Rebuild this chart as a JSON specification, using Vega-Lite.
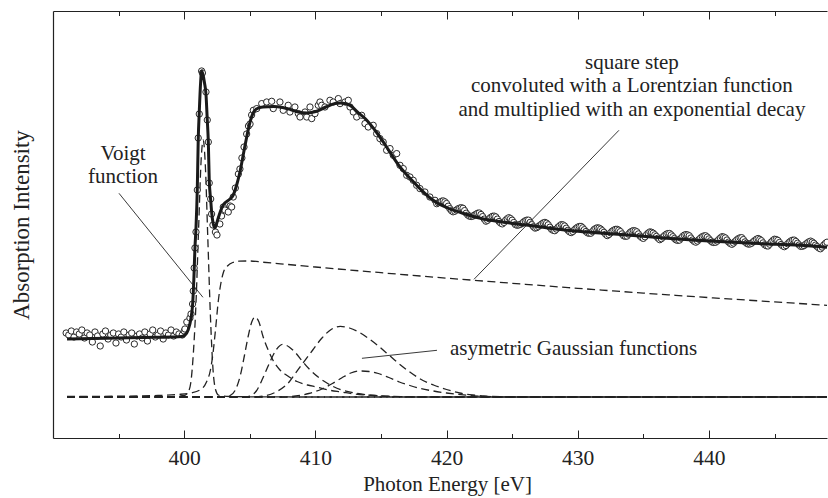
{
  "$schema": "https://vega.github.io/schema/vega-lite/v6.json",
  "width": 774,
  "height": 427,
  "autosize": {"type": "none"},
  "padding": {"left": 53, "top": 11, "right": 1, "bottom": 60},
  "background": "white",
  "config": {"view": {"stroke": null}, "font": "Liberation Serif", "axis": {"grid": false}},
  "datasets": {
    "pts": [
      {"e":391.0,"I":105},{"e":391.2,"I":103},{"e":391.4,"I":107},{"e":391.6,"I":101},{"e":391.8,"I":106},{"e":392.0,"I":104},{"e":392.2,"I":108},{"e":392.4,"I":100},{"e":392.6,"I":105},{"e":392.8,"I":103},
      {"e":393.0,"I":96},{"e":393.2,"I":106},{"e":393.4,"I":102},{"e":393.6,"I":92},{"e":393.8,"I":104},{"e":394.0,"I":107},{"e":394.2,"I":99},{"e":394.4,"I":103},{"e":394.6,"I":105},{"e":394.8,"I":95},
      {"e":395.0,"I":104},{"e":395.2,"I":101},{"e":395.4,"I":106},{"e":395.6,"I":98},{"e":395.8,"I":103},{"e":396.0,"I":105},{"e":396.2,"I":94},{"e":396.4,"I":102},{"e":396.6,"I":104},{"e":396.8,"I":100},
      {"e":397.0,"I":106},{"e":397.2,"I":97},{"e":397.4,"I":104},{"e":397.6,"I":108},{"e":397.8,"I":101},{"e":398.0,"I":103},{"e":398.2,"I":107},{"e":398.4,"I":99},{"e":398.6,"I":105},{"e":398.8,"I":103},
      {"e":399.0,"I":108},{"e":399.2,"I":102},{"e":399.4,"I":106},{"e":399.6,"I":104},{"e":399.85,"I":103},{"e":400.0,"I":107},{"e":400.06,"I":109},{"e":400.2,"I":116},
      {"e":400.44,"I":120},{"e":400.52,"I":124},{"e":400.64,"I":134},{"e":400.69,"I":147},{"e":400.76,"I":170},{"e":400.82,"I":190},{"e":400.9,"I":206},{"e":401.0,"I":248},{"e":401.07,"I":300},{"e":401.15,"I":324},
      {"e":401.33,"I":367},{"e":401.39,"I":365},{"e":401.66,"I":346},{"e":401.76,"I":318},{"e":401.84,"I":296},{"e":401.91,"I":255},{"e":402.02,"I":239},{"e":402.09,"I":224},{"e":402.19,"I":213},{"e":402.38,"I":206},
      {"e":402.5,"I":203},{"e":402.72,"I":214},{"e":402.85,"I":222},{"e":402.98,"I":231},{"e":403.1,"I":228},{"e":403.36,"I":226},{"e":403.5,"I":232},{"e":403.62,"I":231},{"e":403.74,"I":241},{"e":403.9,"I":250},
      {"e":404.13,"I":264},{"e":404.25,"I":269},{"e":404.4,"I":280},{"e":404.56,"I":291},{"e":404.76,"I":304},{"e":404.9,"I":312},{"e":405.02,"I":314},{"e":405.14,"I":323},
      {"e":405.27,"I":327.7},{"e":405.53,"I":329.4},{"e":405.91,"I":334.4},{"e":406.29,"I":336},{"e":406.67,"I":336.7},{"e":406.79,"I":329.4},{"e":407.3,"I":336},{"e":407.55,"I":327.7},{"e":407.93,"I":332.7},{"e":408.06,"I":326},
      {"e":408.44,"I":331},{"e":408.7,"I":324.4},{"e":408.83,"I":321},{"e":409.21,"I":326},{"e":409.34,"I":321},{"e":409.59,"I":331},{"e":409.72,"I":319.4},{"e":409.97,"I":324.4},{"e":410.22,"I":332.7},{"e":410.35,"I":336},
      {"e":410.48,"I":332.7},{"e":410.73,"I":331},{"e":411.11,"I":337.7},{"e":411.36,"I":336},{"e":411.75,"I":339.4},{"e":411.88,"I":334.4},{"e":412.26,"I":336},{"e":412.51,"I":337.7},{"e":412.64,"I":331},{"e":412.89,"I":326},
      {"e":413.15,"I":321},{"e":413.53,"I":322.7},{"e":413.78,"I":314.4},{"e":414.03,"I":311},{"e":414.41,"I":312.7},{"e":414.67,"I":304.4},{"e":414.92,"I":299.4},{"e":415.17,"I":296},{"e":415.43,"I":287.7},{"e":415.69,"I":289.4},
      {"e":415.94,"I":282.7},{"e":416.2,"I":284.4},{"e":416.45,"I":272.7},{"e":416.7,"I":269.4},{"e":416.96,"I":262.7},{"e":417.21,"I":261},{"e":417.46,"I":257.7},{"e":417.72,"I":252.7},{"e":417.97,"I":249.4},{"e":418.35,"I":246},
      {"e":418.73,"I":241},{"e":419.12,"I":237.7},
      {"e":419.25,"I":234.3},{"e":419.375,"I":235.2},{"e":419.5,"I":235.7},{"e":419.625,"I":236.8},{"e":419.75,"I":237.1},{"e":419.875,"I":236.2},{"e":420.0,"I":234.5},{"e":420.125,"I":231.8},{"e":420.25,"I":229.3},{"e":420.375,"I":227.3},
      {"e":420.5,"I":226.2},{"e":420.625,"I":226.8},{"e":420.75,"I":228.0},{"e":420.875,"I":229.2},{"e":421.0,"I":229.9},{"e":421.125,"I":230.3},{"e":421.25,"I":229.7},{"e":421.375,"I":227.4},{"e":421.5,"I":224.8},{"e":421.625,"I":222.9},
      {"e":421.75,"I":221.8},{"e":421.875,"I":221.5},{"e":422.0,"I":221.9},{"e":422.125,"I":222.8},{"e":422.25,"I":223.9},{"e":422.375,"I":224.8},{"e":422.5,"I":225.0},{"e":422.625,"I":223.5},{"e":422.75,"I":221.4},{"e":422.875,"I":218.9},
      {"e":423.0,"I":216.8},{"e":423.125,"I":217.7},{"e":423.25,"I":219.3},{"e":423.375,"I":220.7},{"e":423.5,"I":221.7},{"e":423.625,"I":221.9},{"e":423.75,"I":221.1},{"e":423.875,"I":218.9},{"e":424.0,"I":216.5},{"e":424.125,"I":214.9},
      {"e":424.25,"I":214.1},{"e":424.375,"I":215.6},{"e":424.5,"I":217.7},{"e":424.625,"I":219.3},{"e":424.75,"I":220.3},{"e":424.875,"I":219.4},{"e":425.0,"I":217.8},{"e":425.125,"I":215.5},{"e":425.25,"I":213.4},{"e":425.375,"I":212.8},
      {"e":425.5,"I":213.0},{"e":425.625,"I":213.6},{"e":425.75,"I":214.6},{"e":425.875,"I":216.1},{"e":426.0,"I":217.2},{"e":426.125,"I":217.9},{"e":426.25,"I":217.8},{"e":426.375,"I":215.7},{"e":426.5,"I":213.3},{"e":426.625,"I":211.3},
      {"e":426.75,"I":209.9},{"e":426.875,"I":210.4},{"e":427.0,"I":211.5},{"e":427.125,"I":212.8},{"e":427.25,"I":214.0},{"e":427.375,"I":215.1},{"e":427.5,"I":215.6},{"e":427.625,"I":214.8},{"e":427.75,"I":213.2},{"e":427.875,"I":210.8},
      {"e":428.0,"I":208.7},{"e":428.125,"I":207.7},{"e":428.25,"I":207.3},{"e":428.375,"I":208.9},{"e":428.5,"I":210.9},{"e":428.625,"I":212.3},{"e":428.75,"I":213.4},{"e":428.875,"I":213.1},{"e":429.0,"I":212.0},{"e":429.125,"I":209.8},
      {"e":429.25,"I":207.7},{"e":429.375,"I":206.2},{"e":429.5,"I":205.4},{"e":429.625,"I":206.5},{"e":429.75,"I":208.2},{"e":429.875,"I":209.7},{"e":430.0,"I":210.9},{"e":430.125,"I":211.5},{"e":430.25,"I":211.6},{"e":430.375,"I":210.2},
      {"e":430.5,"I":208.3},{"e":430.625,"I":206.5},{"e":430.75,"I":205.1},{"e":430.875,"I":204.7},{"e":431.0,"I":204.8},{"e":431.125,"I":206.5},{"e":431.25,"I":208.5},{"e":431.375,"I":209.6},{"e":431.5,"I":210.2},{"e":431.625,"I":209.9},
      {"e":431.75,"I":208.9},{"e":431.875,"I":207.3},{"e":432.0,"I":205.7},{"e":432.125,"I":203.8},{"e":432.25,"I":202.4},{"e":432.375,"I":203.5},{"e":432.5,"I":205.2},{"e":432.625,"I":206.8},{"e":432.75,"I":207.9},{"e":432.875,"I":208.6},
      {"e":433.0,"I":208.7},{"e":433.125,"I":207.8},{"e":433.25,"I":206.4},{"e":433.375,"I":204.1},{"e":433.5,"I":202.2},{"e":433.625,"I":201.7},{"e":433.75,"I":201.9},{"e":433.875,"I":203.8},{"e":434.0,"I":205.7},{"e":434.125,"I":206.8},
      {"e":434.25,"I":207.4},{"e":434.375,"I":207.1},{"e":434.5,"I":206.2},{"e":434.625,"I":204.1},{"e":434.75,"I":201.9},{"e":434.875,"I":200.5},{"e":435.0,"I":199.6},{"e":435.125,"I":201.2},{"e":435.25,"I":203.4},{"e":435.375,"I":205.0},
      {"e":435.5,"I":206.1},{"e":435.625,"I":205.7},{"e":435.75,"I":204.8},{"e":435.875,"I":203.2},{"e":436.0,"I":201.6},{"e":436.125,"I":199.8},{"e":436.25,"I":198.3},{"e":436.375,"I":199.3},{"e":436.5,"I":201.0},{"e":436.625,"I":202.6},
      {"e":436.75,"I":203.8},{"e":436.875,"I":204.5},{"e":437.0,"I":204.5},{"e":437.125,"I":203.1},{"e":437.25,"I":201.3},{"e":437.375,"I":199.5},{"e":437.5,"I":198.1},{"e":437.625,"I":197.6},{"e":437.75,"I":197.9},{"e":437.875,"I":199.8},
      {"e":438.0,"I":201.7},{"e":438.125,"I":202.9},{"e":438.25,"I":203.4},{"e":438.375,"I":203.1},{"e":438.5,"I":202.2},{"e":438.625,"I":200.0},{"e":438.75,"I":198.0},{"e":438.875,"I":196.6},{"e":439.0,"I":195.8},{"e":439.125,"I":196.9},
      {"e":439.25,"I":198.6},{"e":439.375,"I":200.2},{"e":439.5,"I":201.4},{"e":439.625,"I":202.1},{"e":439.75,"I":202.2},{"e":439.875,"I":200.9},{"e":440.0,"I":199.1},{"e":440.125,"I":197.3},{"e":440.25,"I":195.9},{"e":440.375,"I":195.5},
      {"e":440.5,"I":195.7},{"e":440.625,"I":196.9},{"e":440.75,"I":198.5},{"e":440.875,"I":200.1},{"e":441.0,"I":201.3},{"e":441.125,"I":201.0},{"e":441.25,"I":200.1},{"e":441.375,"I":198.0},{"e":441.5,"I":195.9},{"e":441.625,"I":194.5},
      {"e":441.75,"I":193.7},{"e":441.875,"I":194.9},{"e":442.0,"I":196.6},{"e":442.125,"I":198.2},{"e":442.25,"I":199.4},{"e":442.375,"I":200.2},{"e":442.5,"I":200.3},{"e":442.625,"I":198.4},{"e":442.75,"I":196.1},{"e":442.875,"I":194.7},
      {"e":443.0,"I":193.9},{"e":443.125,"I":194.0},{"e":443.25,"I":194.8},{"e":443.375,"I":196.2},{"e":443.5,"I":197.6},{"e":443.625,"I":198.8},{"e":443.75,"I":199.5},{"e":443.875,"I":198.6},{"e":444.0,"I":197.3},{"e":444.125,"I":195.1},
      {"e":444.25,"I":193.2},{"e":444.375,"I":192.3},{"e":444.5,"I":192.0},{"e":444.625,"I":193.8},{"e":444.75,"I":195.9},{"e":444.875,"I":197.6},{"e":445.0,"I":198.8},{"e":445.125,"I":198.5},{"e":445.25,"I":197.6},{"e":445.375,"I":195.5},
      {"e":445.5,"I":193.5},{"e":445.625,"I":192.1},{"e":445.75,"I":191.3},{"e":445.875,"I":192.5},{"e":446.0,"I":194.2},{"e":446.125,"I":195.8},{"e":446.25,"I":197.1},{"e":446.375,"I":197.8},{"e":446.5,"I":197.9},{"e":446.625,"I":196.6},
      {"e":446.75,"I":194.8},{"e":446.875,"I":193.0},{"e":447.0,"I":191.6},{"e":447.125,"I":191.7},{"e":447.25,"I":192.4},{"e":447.375,"I":193.8},{"e":447.5,"I":195.1},{"e":447.625,"I":196.2},{"e":447.75,"I":196.9},{"e":447.875,"I":196.0},
      {"e":448.0,"I":194.7},{"e":448.125,"I":192.9},{"e":448.25,"I":191.4},{"e":448.375,"I":190.0},{"e":448.5,"I":189.2},{"e":448.625,"I":190.9},{"e":448.75,"I":193.0},{"e":448.875,"I":194.6},{"e":449.0,"I":195.8}
    ],
    "fit": [
      {"e":391.07,"I":99},{"e":393,"I":99.5},{"e":395,"I":100},{"e":397,"I":100.5},{"e":399,"I":101},{"e":399.8,"I":101.5},{"e":400.06,"I":103},{"e":400.3,"I":108},{"e":400.52,"I":120},{"e":400.65,"I":135},
      {"e":400.74,"I":160},{"e":400.82,"I":190},{"e":400.9,"I":210},{"e":401.0,"I":250},{"e":401.07,"I":298},{"e":401.15,"I":326},{"e":401.25,"I":355},{"e":401.33,"I":367},{"e":401.42,"I":364},{"e":401.55,"I":355},
      {"e":401.66,"I":344},{"e":401.76,"I":318},{"e":401.84,"I":296},{"e":401.91,"I":258},{"e":402.02,"I":238},{"e":402.1,"I":225},{"e":402.2,"I":215},{"e":402.35,"I":210},{"e":402.55,"I":218},{"e":402.8,"I":228},
      {"e":402.98,"I":233},{"e":403.4,"I":238},{"e":403.74,"I":243},{"e":404.0,"I":253},{"e":404.25,"I":266},{"e":404.63,"I":292},{"e":405.02,"I":316},{"e":405.25,"I":325},{"e":405.5,"I":329},{"e":406.0,"I":331},
      {"e":406.8,"I":331.5},{"e":407.5,"I":330.5},{"e":408.1,"I":328.5},{"e":408.7,"I":326},{"e":409.36,"I":325},{"e":410.1,"I":326.7},{"e":410.8,"I":331},{"e":411.5,"I":334.5},{"e":411.9,"I":335},{"e":412.6,"I":333},
      {"e":413.2,"I":326},{"e":413.9,"I":318},{"e":414.7,"I":305},{"e":415.43,"I":291},{"e":416.45,"I":271},{"e":417.2,"I":260},{"e":418.0,"I":249},{"e":418.7,"I":240.5},{"e":419.3,"I":235},{"e":420.0,"I":230.5},
      {"e":421.3,"I":224.5},{"e":422.5,"I":220},{"e":424,"I":216.5},{"e":426.4,"I":212.5},{"e":429,"I":208},{"e":431.7,"I":205},{"e":434,"I":202.7},{"e":436.8,"I":199.7},{"e":439,"I":197.8},{"e":441.8,"I":195.7},
      {"e":444,"I":194.3},{"e":446.9,"I":192.7},{"e":449.0,"I":190.8}
    ],
    "comp": [
      {"c":"base","e":391.07,"I":41},{"c":"base","e":449.0,"I":41},
      {"c":"voigt","e":391.07,"I":41},{"c":"voigt","e":398,"I":41.3},{"c":"voigt","e":399.5,"I":41.8},{"c":"voigt","e":400.0,"I":42.5},{"c":"voigt","e":400.3,"I":46},{"c":"voigt","e":400.5,"I":55},{"c":"voigt","e":400.7,"I":85},{"c":"voigt","e":400.9,"I":135},
      {"c":"voigt","e":401.1,"I":210},{"c":"voigt","e":401.3,"I":280},{"c":"voigt","e":401.45,"I":298},{"c":"voigt","e":401.6,"I":276},{"c":"voigt","e":401.8,"I":200},{"c":"voigt","e":402.0,"I":122},{"c":"voigt","e":402.2,"I":68},{"c":"voigt","e":402.4,"I":48},{"c":"voigt","e":402.6,"I":43},{"c":"voigt","e":402.9,"I":42},
      {"c":"voigt","e":403.5,"I":41.5},{"c":"voigt","e":405,"I":41.2},{"c":"voigt","e":410,"I":41},{"c":"voigt","e":449.0,"I":41},
      {"c":"step","e":391.07,"I":41.5},{"c":"step","e":395,"I":41.8},{"c":"step","e":398,"I":42.5},{"c":"step","e":399.5,"I":43.5},{"c":"step","e":400.5,"I":45},{"c":"step","e":401.2,"I":48},{"c":"step","e":401.7,"I":56},{"c":"step","e":402.0,"I":68},{"c":"step","e":402.2,"I":85},{"c":"step","e":402.4,"I":110},
      {"c":"step","e":402.6,"I":137},{"c":"step","e":402.8,"I":155},{"c":"step","e":403.0,"I":166},{"c":"step","e":403.3,"I":172},{"c":"step","e":403.7,"I":175.5},{"c":"step","e":404.2,"I":176.8},{"c":"step","e":405,"I":177},{"c":"step","e":406,"I":175.8},{"c":"step","e":410,"I":171},{"c":"step","e":415,"I":165.3},
      {"c":"step","e":418,"I":162},{"c":"step","e":422,"I":157.8},{"c":"step","e":426,"I":153.7},{"c":"step","e":430,"I":149.7},{"c":"step","e":435,"I":144.9},{"c":"step","e":440,"I":140.4},{"c":"step","e":445,"I":136.1},{"c":"step","e":449.0,"I":132.7},
      {"c":"g1","e":391.07,"I":41},{"c":"g1","e":403.0,"I":41},{"c":"g1","e":403.5,"I":42.5},{"c":"g1","e":403.9,"I":48},{"c":"g1","e":404.25,"I":61},{"c":"g1","e":404.6,"I":83},{"c":"g1","e":404.9,"I":103},{"c":"g1","e":405.15,"I":116},{"c":"g1","e":405.4,"I":121},{"c":"g1","e":405.7,"I":116},
      {"c":"g1","e":406.0,"I":102},{"c":"g1","e":406.4,"I":88},{"c":"g1","e":406.8,"I":77},{"c":"g1","e":407.3,"I":68},{"c":"g1","e":407.9,"I":62},{"c":"g1","e":408.6,"I":56.5},{"c":"g1","e":409.4,"I":53},{"c":"g1","e":410.1,"I":51},{"c":"g1","e":411.0,"I":48},{"c":"g1","e":412.0,"I":46},
      {"c":"g1","e":413.0,"I":44},{"c":"g1","e":414.5,"I":42.5},{"c":"g1","e":416.5,"I":41.3},{"c":"g1","e":418,"I":41},{"c":"g1","e":449.0,"I":41},
      {"c":"g2","e":391.07,"I":41},{"c":"g2","e":404.6,"I":41},{"c":"g2","e":405.0,"I":42},{"c":"g2","e":405.5,"I":47},{"c":"g2","e":406.0,"I":60},{"c":"g2","e":406.5,"I":75},{"c":"g2","e":407.0,"I":88},{"c":"g2","e":407.5,"I":93.7},{"c":"g2","e":408.0,"I":91},{"c":"g2","e":408.5,"I":85},
      {"c":"g2","e":409.0,"I":77},{"c":"g2","e":409.6,"I":68},{"c":"g2","e":410.3,"I":60},{"c":"g2","e":411.0,"I":54},{"c":"g2","e":412.0,"I":48},{"c":"g2","e":413.0,"I":45},{"c":"g2","e":414.5,"I":42.5},{"c":"g2","e":416.5,"I":41.3},{"c":"g2","e":418,"I":41},{"c":"g2","e":449.0,"I":41},
      {"c":"g3","e":391.07,"I":41},{"c":"g3","e":405.0,"I":41},{"c":"g3","e":406.0,"I":42},{"c":"g3","e":407.0,"I":46},{"c":"g3","e":408.0,"I":56},{"c":"g3","e":408.5,"I":65},{"c":"g3","e":409.0,"I":74},{"c":"g3","e":409.8,"I":88},{"c":"g3","e":410.5,"I":100},{"c":"g3","e":411.2,"I":108.5},
      {"c":"g3","e":411.9,"I":111.7},{"c":"g3","e":412.6,"I":110},{"c":"g3","e":413.3,"I":106},{"c":"g3","e":414.0,"I":100},{"c":"g3","e":414.8,"I":92},{"c":"g3","e":415.6,"I":83},{"c":"g3","e":416.4,"I":74},{"c":"g3","e":417.2,"I":66},{"c":"g3","e":418.0,"I":59},{"c":"g3","e":419.0,"I":53},
      {"c":"g3","e":420.0,"I":48.5},{"c":"g3","e":421.0,"I":45},{"c":"g3","e":422.0,"I":43},{"c":"g3","e":423.0,"I":41.8},{"c":"g3","e":424.5,"I":41.2},{"c":"g3","e":426,"I":41},{"c":"g3","e":449.0,"I":41},
      {"c":"g4","e":391.07,"I":41},{"c":"g4","e":407.5,"I":41},{"c":"g4","e":408.5,"I":42},{"c":"g4","e":409.5,"I":44.5},{"c":"g4","e":410.5,"I":49},{"c":"g4","e":411.3,"I":54.5},{"c":"g4","e":412.0,"I":60},{"c":"g4","e":412.7,"I":65},{"c":"g4","e":413.4,"I":67},{"c":"g4","e":414.1,"I":66.5},
      {"c":"g4","e":414.8,"I":64.5},{"c":"g4","e":415.6,"I":60.5},{"c":"g4","e":416.4,"I":56},{"c":"g4","e":417.2,"I":52.5},{"c":"g4","e":418.0,"I":49.5},{"c":"g4","e":419.0,"I":47},{"c":"g4","e":420.0,"I":45},{"c":"g4","e":421.5,"I":42.8},{"c":"g4","e":423.0,"I":41.5},{"c":"g4","e":424.5,"I":41},
      {"c":"g4","e":449.0,"I":41}
    ],
    "lead": [
      {"e":395.03,"I":244.7,"e2":401.43,"I2":140.7},
      {"e":433.14,"I":307.7,"e2":422.09,"I2":158.7},
      {"e":419.27,"I":87.7,"e2":413.55,"I2":79.7}
    ],
    "lblc": [
      {"e":395.34,"I":277.7,"t":"Voigt"},
      {"e":395.34,"I":255,"t":"function"},
      {"e":434.13,"I":369.2,"t":"square step"},
      {"e":434.13,"I":345.7,"t":"convoluted with a Lorentzian function"},
      {"e":434.13,"I":322.4,"t":"and multiplied with an exponential decay"}
    ],
    "lbll": [
      {"e":420.26,"I":83.4,"t":"asymetric Gaussian functions"}
    ]
  },
  "resolve": {"axis": {"x": "independent", "y": "independent"}},
  "layer": [
    {
      "data": {"name": "comp"},
      "mark": {"type": "line", "strokeDash": [8, 4.5], "strokeWidth": 1.3, "color": "#222", "interpolate": "monotone"},
      "encoding": {
        "x": {"field": "e", "type": "quantitative", "scale": {"domain": [390, 449], "nice": false, "zero": false},
          "axis": {"orient": "bottom", "values": [400, 410, 420, 430, 440], "tickSize": -8, "tickWidth": 1, "tickColor": "#222", "domainColor": "#222", "domainWidth": 1.2,
            "labelFont": "Liberation Serif", "labelFontSize": 21.5, "labelColor": "#222", "labelPadding": 17, "labelFlush": false, "labelOverlap": false,
            "title": "Photon Energy [eV]", "titleFont": "Liberation Serif", "titleFontSize": 21, "titleFontWeight": "normal", "titleColor": "#222",
            "titleX": 394, "titleY": 52, "titleBaseline": "alphabetic", "titleAlign": "center", "grid": false}},
        "y": {"field": "I", "type": "quantitative", "scale": {"domain": [0, 427], "nice": false, "zero": false},
          "axis": {"orient": "left", "ticks": false, "labels": false, "domainColor": "#222", "domainWidth": 1.2,
            "title": "Absorption Intensity", "titleFont": "Liberation Serif", "titleFontSize": 23, "titleFontWeight": "normal", "titleColor": "#222", "titlePadding": 20, "grid": false}},
        "detail": {"field": "c", "type": "nominal"}
      }
    },
    {
      "data": {"name": "pts"},
      "mark": {"type": "point", "shape": "circle", "filled": true, "fill": "white", "fillOpacity": 1, "stroke": "#2a2a2a", "strokeWidth": 1, "strokeOpacity": 1, "size": 40, "opacity": 1},
      "encoding": {
        "x": {"field": "e", "type": "quantitative", "scale": {"domain": [390, 449], "nice": false, "zero": false},
          "axis": {"orient": "bottom", "values": [395, 405, 415, 425, 435, 445], "tickSize": -4.5, "tickWidth": 1, "tickColor": "#222", "domain": false, "labels": false, "title": null, "grid": false}},
        "y": {"field": "I", "type": "quantitative", "scale": {"domain": [0, 427], "nice": false, "zero": false}, "axis": null}
      }
    },
    {
      "data": {"name": "fit"},
      "mark": {"type": "line", "strokeWidth": 3, "color": "#1a1a1a", "interpolate": "monotone"},
      "encoding": {
        "x": {"field": "e", "type": "quantitative", "scale": {"domain": [390, 449], "nice": false, "zero": false},
          "axis": {"orient": "top", "values": [400, 410, 420, 430, 440], "tickSize": -8, "tickWidth": 1, "tickColor": "#222", "domainColor": "#222", "domainWidth": 1.2, "labels": false, "title": null, "grid": false}},
        "y": {"field": "I", "type": "quantitative", "scale": {"domain": [0, 427], "nice": false, "zero": false}, "axis": null}
      }
    },
    {
      "data": {"name": "lead"},
      "mark": {"type": "rule", "strokeWidth": 0.9, "color": "#222"},
      "encoding": {
        "x": {"field": "e", "type": "quantitative", "scale": {"domain": [390, 449], "nice": false, "zero": false},
          "axis": {"orient": "top", "values": [395, 405, 415, 425, 435, 445], "tickSize": -4.5, "tickWidth": 1, "tickColor": "#222", "domain": false, "labels": false, "title": null, "grid": false}},
        "y": {"field": "I", "type": "quantitative", "scale": {"domain": [0, 427], "nice": false, "zero": false}, "axis": null},
        "x2": {"field": "e2"},
        "y2": {"field": "I2"}
      }
    },
    {
      "data": {"name": "lblc"},
      "mark": {"type": "text", "align": "center", "baseline": "alphabetic", "font": "Liberation Serif", "fontSize": 21, "color": "#222"},
      "encoding": {
        "x": {"field": "e", "type": "quantitative", "scale": {"domain": [390, 449], "nice": false, "zero": false}, "axis": null},
        "y": {"field": "I", "type": "quantitative", "scale": {"domain": [0, 427], "nice": false, "zero": false}, "axis": null},
        "text": {"field": "t"}
      }
    },
    {
      "data": {"name": "lbll"},
      "mark": {"type": "text", "align": "left", "baseline": "alphabetic", "font": "Liberation Serif", "fontSize": 21, "color": "#222"},
      "encoding": {
        "x": {"field": "e", "type": "quantitative", "scale": {"domain": [390, 449], "nice": false, "zero": false}, "axis": null},
        "y": {"field": "I", "type": "quantitative", "scale": {"domain": [0, 427], "nice": false, "zero": false}, "axis": null},
        "text": {"field": "t"}
      }
    }
  ]
}
